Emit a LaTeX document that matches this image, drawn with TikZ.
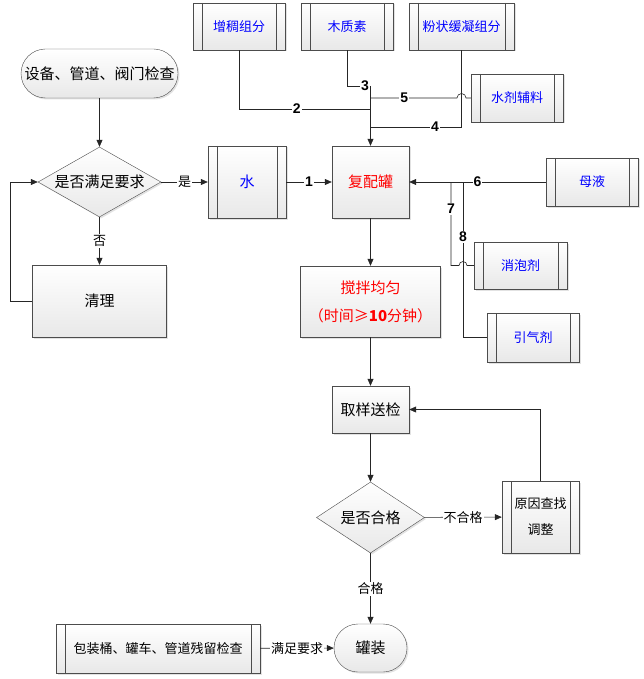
\documentclass[tikz,border=0pt]{standalone}
\usepackage{fontspec}
\setmainfont{Noto Sans CJK SC}
\newfontfamily\numfont{Liberation Sans}
\usepackage{tikz}
\usetikzlibrary{positioning,arrows.meta,shapes.geometric,shapes.misc,shadows,calc}

\begin{document}
\begin{tikzpicture}[
  x=1pt, y=-1pt,
  font=\fontsize{15}{18}\selectfont,
  base/.style={draw=gray!60!black, top color=white, bottom color=gray!18, inner sep=2pt, align=center,
    drop shadow={shadow xshift=1.5pt, shadow yshift=-1.5pt, fill=gray!45}},
  proc/.style={base, rectangle},
  subproc/.style={base, rectangle, font=\fontsize{13}{16}\selectfont,
    path picture={
      \draw[gray!60!black] ([xshift=9pt]path picture bounding box.north west) -- ([xshift=9pt]path picture bounding box.south west);
      \draw[gray!60!black] ([xshift=-9pt]path picture bounding box.north east) -- ([xshift=-9pt]path picture bounding box.south east);}},
  term/.style={base, rounded rectangle},
  dec/.style={base, diamond, aspect=1.75, inner sep=0pt},
  line/.style={draw=gray!30!black, semithick},
  arr/.style={line, -{Triangle[length=7pt,width=6pt]}},
  num/.style={fill=white, inner sep=1pt, font=\numfont\bfseries\fontsize{14}{16}\selectfont},
  lab/.style={fill=white, inner sep=1pt, font=\fontsize{13}{15}\selectfont}
]
\useasboundingbox (0,0) rectangle (643,679);

% left column
\node[term, minimum width=161, minimum height=49] (jiancha) at (99.5,73.5) {设备、管道、阀门检查};
\node[dec, minimum width=123, minimum height=70] (manzu) at (99.5,182) {是否满足要求};
\node[proc, minimum width=134, minimum height=72] (qingli) at (99.5,301) {清理};

% raw materials
\node[subproc, text=blue, minimum width=92, minimum height=47] (zeng) at (239,26.5) {增稠组分};
\node[subproc, text=blue, minimum width=92, minimum height=47] (muzhi) at (347,26.5) {木质素};
\node[subproc, text=blue, minimum width=105, minimum height=47] (fenzhuang) at (461.5,26.5) {粉状缓凝组分};
\node[subproc, text=blue, minimum width=92, minimum height=48] (shuiji) at (517,98) {水剂辅料};
\node[subproc, text=blue, font=\fontsize{15}{18}\selectfont, minimum width=78, minimum height=72] (shui) at (247,182) {水};
\node[subproc, text=blue, minimum width=92, minimum height=48] (muye) at (592,182) {母液};
\node[subproc, text=blue, minimum width=93, minimum height=47] (xiaopao) at (520.5,265.5) {消泡剂};
\node[subproc, text=blue, minimum width=92, minimum height=49] (yinqi) at (533,337.5) {引气剂};

% main column
\node[proc, text=red, minimum width=77, minimum height=72] (fupei) at (370.5,182) {复配罐};
\node[proc, text=red, font=\fontsize{15}{28}\selectfont, minimum width=140, minimum height=71] (jiaoban) at (370.5,301.5) {搅拌均匀\\（时间≥\textbf{10}分钟）};
\node[proc, minimum width=77, minimum height=47] (quyang) at (370.5,409.5) {取样送检};
\node[dec, minimum width=108, minimum height=71] (hege) at (370.5,517.5) {是否合格};
\node[subproc, font=\fontsize{13}{26}\selectfont, minimum width=77, minimum height=72] (yuanyin) at (540.5,517) {原因查找\\调整};
\node[term, minimum width=77, minimum height=48] (guanzhuang) at (370.5,648) {罐装};
\node[subproc, minimum width=204, minimum height=49] (baozhuang) at (158,648.5) {包装桶、罐车、管道残留检查};

% junctions
\coordinate (j3) at (370.5,86);
\coordinate (j5) at (370.5,98);
\coordinate (j2) at (370.5,109);
\coordinate (j4) at (370.5,127);
\coordinate (j7) at (451,182);
\coordinate (j8) at (463,182);

% left loop
\draw[arr] (jiancha) -- (manzu);
\draw[arr] (manzu) -- node[lab] {是} (shui);
\draw[arr] (manzu) -- node[lab] {否} (qingli);
\draw[arr] (qingli.west) -- ++(-22,0) |- (manzu.west);

% feeds into the tank
\draw[line] (muzhi.south) |- (j3);
\draw[arr] (j3) -- (fupei.north);
\draw[line] (zeng.south) |- node[num, pos=0.72] {2} (j2);
\draw[line] (fenzhuang.south) |- node[num, pos=0.645] {4} (j4);
\draw[line] (j5) -- node[num, pos=0.39] {5} ($(fenzhuang.south |- j5)+(-4.5,0)$)
  arc[start angle=180, end angle=360, radius=4.5] -- (shuiji.west);
\node[num] at (365,86) {3};
\draw[arr] (shui) -- node[num] {1} (fupei);
\draw[arr] (muye) -- node[num] {6} (fupei);
\draw[line] (j7) -- node[num, pos=0.32] {7} (j7 |- xiaopao.west) -- ($(j8 |- xiaopao.west)+(-4,0)$)
  arc[start angle=180, end angle=360, radius=4] -- (xiaopao.west);
\draw[line] (j8) |- node[num, pos=0.177] {8} (yinqi.west);

% main flow
\draw[arr] (fupei) -- (jiaoban);
\draw[arr] (jiaoban) -- (quyang);
\draw[arr] (quyang) -- (hege);
\draw[arr] (hege) -- node[lab] {不合格} (yuanyin);
\draw[arr] (yuanyin.north) |- (quyang.east);
\draw[arr] (hege) -- node[lab] {合格} (guanzhuang);
\draw[arr] (baozhuang) -- node[lab] {满足要求} (guanzhuang);
\end{tikzpicture}
\end{document}
